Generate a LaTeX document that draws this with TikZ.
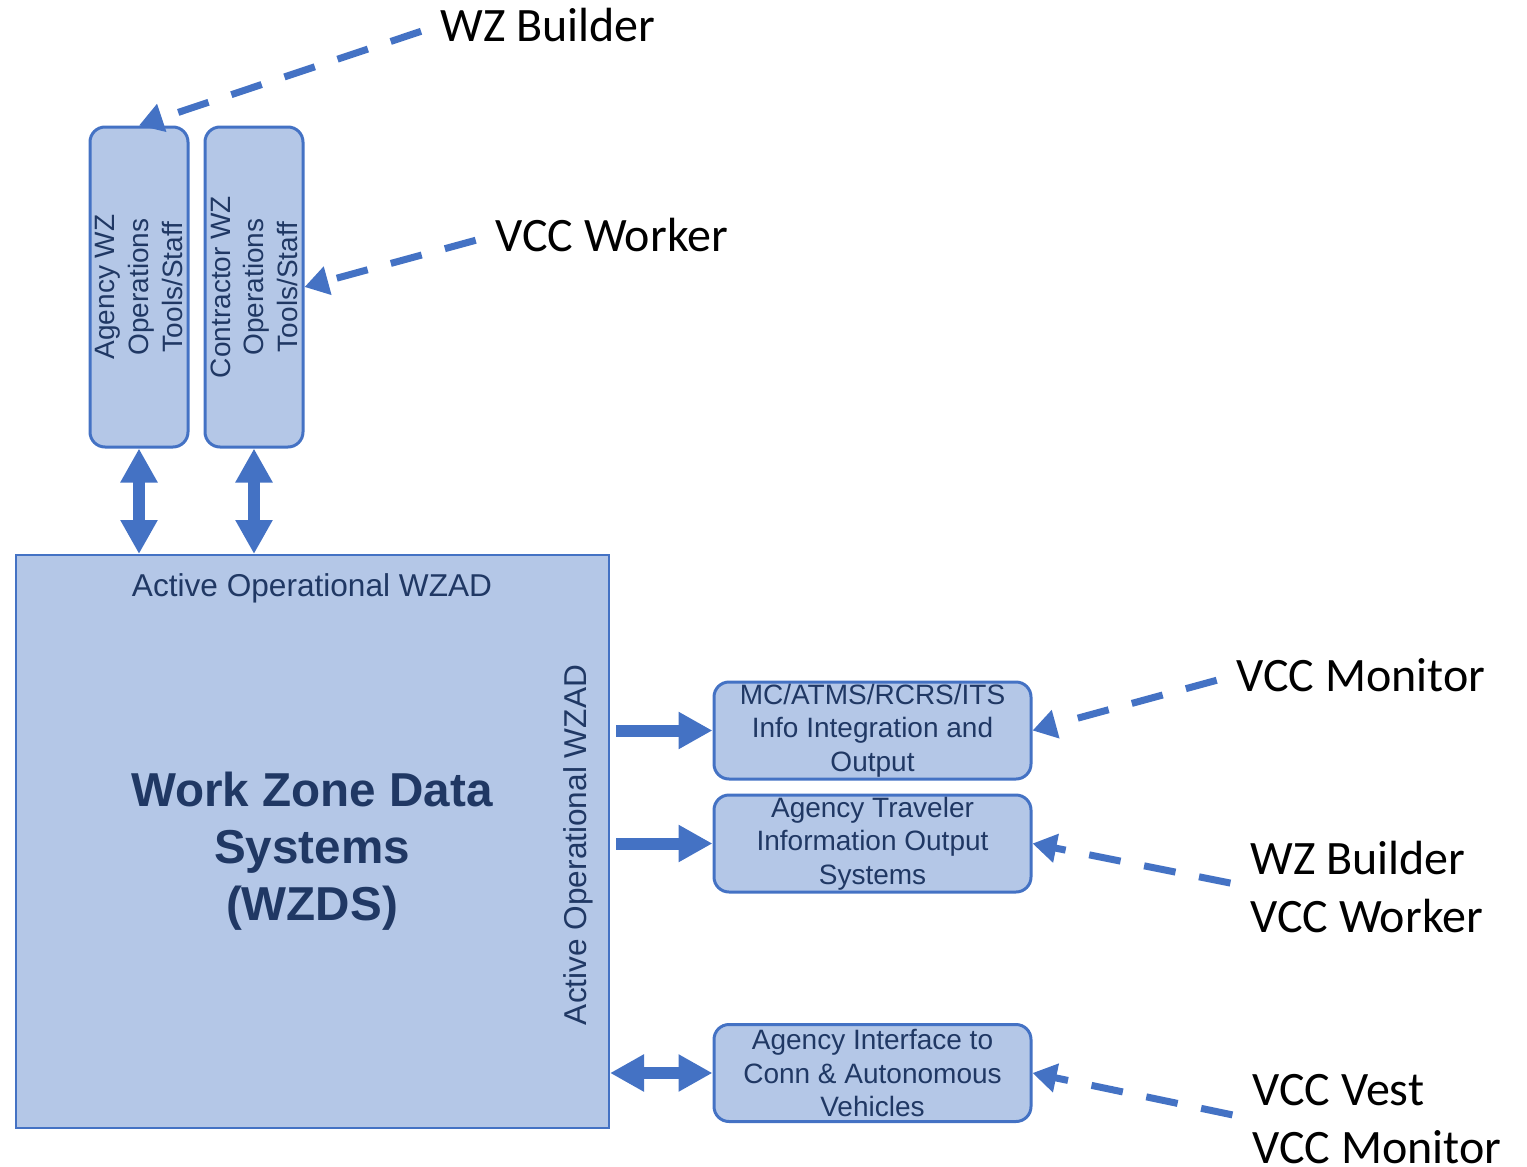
\documentclass[tikz,border=0pt]{standalone}
\usepackage{fontspec}
\usepackage{tikz}
\usetikzlibrary{arrows.meta,positioning}
\newfontfamily\boxfont{Liberation Sans}
\newfontfamily\labfont{Carlito}
\definecolor{fillb}{HTML}{B4C7E7}
\definecolor{edge}{HTML}{4472C4}
\definecolor{ink}{HTML}{203864}
\tikzset{
  box/.style={draw=edge, fill=fillb, line width=1.5pt, rounded corners=7.5pt, text=ink, align=center, inner sep=0pt, font=\boxfont\fontsize{14}{16.8}\selectfont},
  tallbox/.style={box, rotate=90, minimum width=160pt, minimum height=49pt},
  sidebox/.style={box, minimum width=158.5pt, minimum height=48.5pt},
  bigbox/.style={draw=edge, fill=fillb, line width=1pt, minimum width=296.5pt, minimum height=286.5pt},
  boxtxt/.style={text=ink, inner sep=0pt, font=\boxfont\fontsize{15.8}{19}\selectfont},
  title/.style={text=ink, inner sep=0pt, align=center, font=\boxfont\bfseries\fontsize{23.8}{28.5}\selectfont},
  flow/.style={draw=edge, line width=6pt, -{Triangle[length=17pt,width=17.5pt]}},
  both/.style={draw=edge, line width=6pt, {Triangle[length=17pt,width=17.5pt]}-{Triangle[length=17pt,width=17.5pt]}},
  feed/.style={draw=edge, line width=3.5pt, dash pattern=on 16pt off 12pt, shorten <=10pt, -{Triangle[length=12pt,width=14pt]}},
  lab/.style={text=black, inner sep=0pt, anchor=west, align=left, font=\labfont\fontsize{24}{29}\selectfont},
}
\begin{document}
\begin{tikzpicture}[x=0.5pt, y=-0.5pt]
  \useasboundingbox (0,0) rectangle (1527,1167);
  % tools/staff
  \node[tallbox] (agency) at (139,287) {Agency WZ\\Operations\\Tools/Staff};
  \node[tallbox] (contractor) at (254,287) {Contractor WZ\\Operations\\Tools/Staff};
  % WZDS
  \node[bigbox] (wzds) at (312.5,841.5) {};
  \node[boxtxt] (wzadtop) at (312,588) {Active Operational WZAD};
  \node[boxtxt, rotate=90] (wzadside) at (578,845) {Active Operational WZAD};
  \node[title] (wzdstitle) at (312,851) {Work Zone Data\\Systems\\(WZDS)};
  % outputs
  \node[sidebox] (mc) at (872.5,730.5) {MC/ATMS/RCRS/ITS\\Info Integration and\\Output};
  \node[sidebox] (trav) at (872.5,843.5) {Agency Traveler\\Information Output\\Systems};
  \node[sidebox] (iface) at (872.5,1073) {Agency Interface to\\Conn \& Autonomous\\Vehicles};
  % users
  \node[lab] (wzb) at (440,25) {WZ Builder};
  \node[lab] (vccw) at (495,235) {VCC Worker};
  \node[lab] (vccm) at (1236,675) {VCC Monitor};
  \node[lab] (wzbw) at (1250,887) {WZ Builder\\VCC Worker};
  \node[lab] (vest) at (1252,1119) {VCC Vest\\VCC Monitor};
  \draw[both] (agency.west) -- (agency.west |- wzds.north);
  \draw[both] (contractor.west) -- (contractor.west |- wzds.north);
  \draw[flow, shorten <=3pt] (wzds.east |- mc.west) -- (mc.west);
  \draw[flow, shorten <=3pt] (wzds.east |- trav.west) -- (trav.west);
  \draw[both] (wzds.east |- iface.west) -- (iface.west);
  \draw[feed] (wzb.west) -- (agency.east);
  \draw[feed] (vccw.west) -- (contractor.south);
  \draw[feed] (vccm.west) -- (mc.east);
  \draw[feed] (wzbw.west) -- (trav.east);
  \draw[feed] (vest.west) -- (iface.east);
\end{tikzpicture}
\end{document}
